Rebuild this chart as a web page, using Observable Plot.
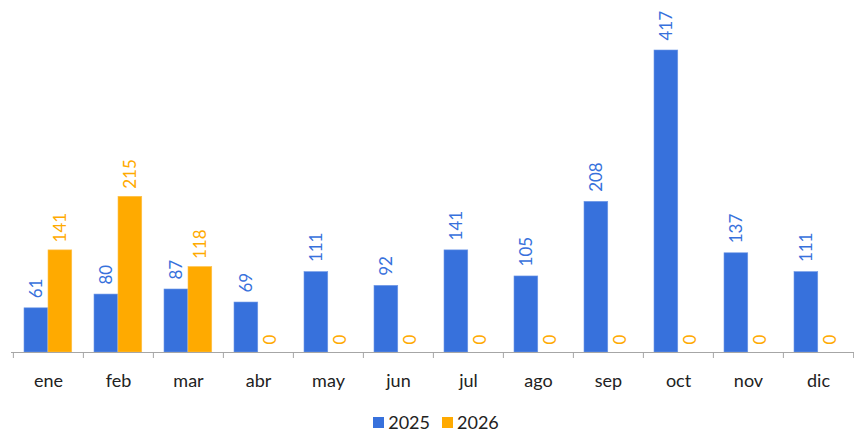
<!DOCTYPE html>
<html><head><meta charset="utf-8">
<script src="https://cdn.jsdelivr.net/npm/d3@7"></script>
<script src="https://cdn.jsdelivr.net/npm/@observablehq/plot@0.6"></script>
<style>
body{margin:0;background:#fff;font-family:Lato,"Open Sans",sans-serif;}
#chart svg{display:block;}
#legend{display:flex;justify-content:center;align-items:center;height:44px;padding-left:18px;font-size:18px;line-height:1;color:#222;}
#legend .item{display:flex;align-items:center;margin:0 6px;}
#legend .sw{width:11px;height:11px;margin-right:4px;}
</style></head>
<body><div id="chart"></div><div id="legend"></div>
<script>
const months = ["ene","feb","mar","abr","may","jun","jul","ago","sep","oct","nov","dic"];
const years = ["2025","2026"];
const values2025 = [61,80,87,69,111,92,141,105,208,417,137,111];
const values2026 = [141,215,118,0,0,0,0,0,0,0,0,0];
const colors = ["#3771DC","#FFAA00"];

const d25 = months.map((m,i)=>({month:m, year:years[0], value:values2025[i]}));
const d26 = months.map((m,i)=>({month:m, year:years[1], value:values2026[i]}));

const W = 854, ML = 11, MR = 0;
const bw = (W - ML - MR) / months.length;

const chart = Plot.plot({
  width: W, height: 400,
  marginLeft: ML, marginRight: MR, marginTop: 50, marginBottom: 48,
  style: {fontFamily: "Lato, 'Open Sans', sans-serif", background: "#fff"},
  x: {domain: months, padding: 0, axis: null, label: null},
  y: {domain: [0, 417], axis: null},
  marks: [
    Plot.barY(d25, {x: "month", y: "value", fill: colors[0], stroke: "#6f97e6", strokeWidth: 0.6, insetLeft: 11, insetRight: bw - 35}),
    Plot.barY(d26, {x: "month", y: "value", fill: colors[1], stroke: "#ffc24d", strokeWidth: 0.6, insetLeft: 35, insetRight: bw - 59}),
    Plot.ruleY([0], {stroke: "#a6a6a6", strokeWidth: 1.2}),
    Plot.axisX({tickSize: 6, tickFormat: () => "", label: null, dx: -bw/2, stroke: "#a6a6a6"}),
    Plot.axisX([months[months.length-1]], {tickSize: 6, tickFormat: () => "", label: null, dx: bw/2, stroke: "#a6a6a6"}),
    Plot.text(months, {x: d => d, frameAnchor: "bottom", dy: 29, text: d => d, fontSize: 18, fill: "#222", lineAnchor: "middle"}),
    Plot.text(d25, {x: "month", y: "value", text: d => String(d.value), rotate: -90, textAnchor: "start", lineAnchor: "middle", dx: -12, dy: -10, fontSize: 17, fill: colors[0]}),
    Plot.text(d26, {x: "month", y: "value", text: d => String(d.value), rotate: -90, textAnchor: "start", lineAnchor: "middle", dx: 12, dy: -8, fontSize: 17, fill: colors[1]})
  ]
});
document.getElementById("chart").append(chart);

const legend = document.getElementById("legend");
years.forEach((y,i)=>{
  const it = document.createElement("div"); it.className = "item";
  const sw = document.createElement("div"); sw.className = "sw"; sw.style.background = colors[i];
  const tx = document.createElement("span"); tx.textContent = y;
  it.append(sw, tx); legend.append(it);
});
</script>
</body></html>
